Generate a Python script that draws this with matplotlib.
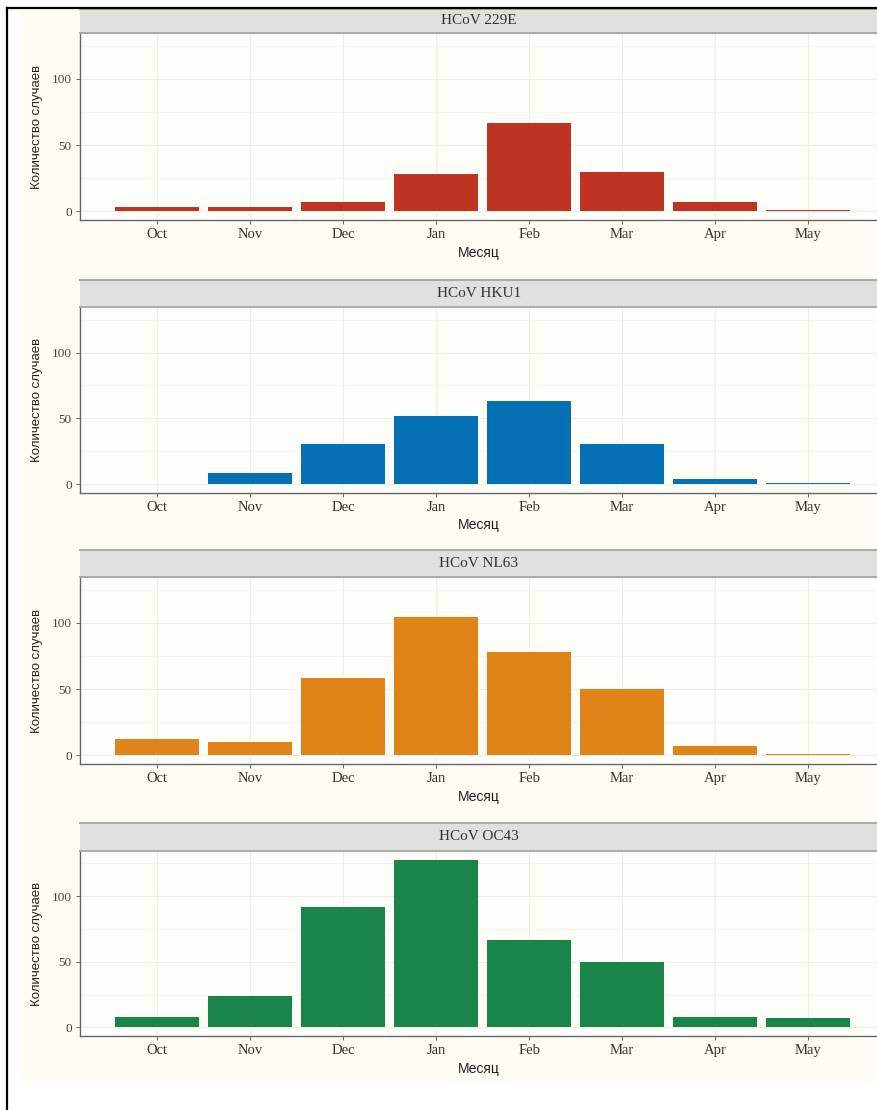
import matplotlib
matplotlib.use('Agg')
import matplotlib.pyplot as plt
from matplotlib.patches import Rectangle
from matplotlib.lines import Line2D
import numpy as np

# monthly case counts for each seasonal coronavirus
months = ['Oct', 'Nov', 'Dec', 'Jan', 'Feb', 'Mar', 'Apr', 'May']
viruses = ['HCoV 229E', 'HCoV HKU1', 'HCoV NL63', 'HCoV OC43']
cases_229e = [3, 3, 7, 28, 67, 30, 7, 1]
cases_hku1 = [0, 9, 31, 52, 63, 31, 4, 1]
cases_nl63 = [12, 10, 58, 104, 78, 50, 7, 1]
cases_oc43 = [8, 24, 92, 128, 67, 50, 8, 7]
colors = ['#BE3421', '#0570B3', '#E0841A', '#1A854B']

W, H = 878, 1110
fig = plt.figure(figsize=(W / 100, H / 100), dpi=100, facecolor='white')

# ivory plot background and the thin black frame
fig.add_artist(Rectangle((20 / W, 1 - 1082 / H), 1 - 20 / W, (1082 - 10) / H,
                         transform=fig.transFigure, facecolor='#fdfdf6',
                         edgecolor='none', zorder=-5))
fig.add_artist(Line2D([7 / W, 7 / W], [0, 1 - 8 / H], transform=fig.transFigure,
                      color='black', lw=1.6, zorder=5))
fig.add_artist(Line2D([7 / W, 1], [1 - 8 / H, 1 - 8 / H], transform=fig.transFigure,
                      color='black', lw=1.6, zorder=5))

serif = 'Liberation Serif'
sans = 'Liberation Sans'

all_cases = [cases_229e, cases_hku1, cases_nl63, cases_oc43]
# (strip top, panel top, panel bottom) in pixels
rows = [(9, 33, 220), (280, 307, 493), (550, 577, 764), (823, 851, 1036)]

x = np.arange(len(months))
left = 80
for name, vals, col, (st, pt, pb) in zip(viruses, all_cases, colors, rows):
    ax = fig.add_axes([left / W, 1 - pb / H, 1 - left / W, (pb - pt) / H])
    ax.set_facecolor('#fefef9')
    ax.bar(x, vals, width=0.9, color=col, zorder=3)
    ax.set_xlim(-0.83, 7.75)
    ax.set_ylim(-6.5, 134.5)
    ax.set_xticks(x)
    ax.set_xticklabels(months, fontfamily=serif, fontsize=10.5, color='#333333')
    ax.set_yticks([0, 50, 100])
    ax.set_yticklabels(['0', '50', '100'], fontfamily=serif, fontsize=9.5, color='#444444')
    ax.set_yticks([25, 75, 125], minor=True)
    ax.grid(True, which='major', color='#efefe8', lw=0.8, zorder=0)
    ax.grid(True, which='minor', axis='y', color='#f4f4ed', lw=0.6, zorder=0)
    ax.tick_params(axis='both', which='major', length=3, width=0.7, color='#666666', pad=3)
    ax.tick_params(axis='y', which='minor', length=0)
    for s in ['top', 'right']:
        ax.spines[s].set_visible(False)
    for s in ['left', 'bottom']:
        ax.spines[s].set_color('#666666')
        ax.spines[s].set_linewidth(1.0)
    ax.set_xlabel('Месяц', fontfamily=sans, fontsize=10, color='#222222', labelpad=3)
    ax.set_ylabel('Количество случаев', fontfamily=sans, fontsize=9.5, color='#222222', labelpad=6)

    # facet strip
    sax = fig.add_axes([left / W, 1 - pt / H, 1 - left / W, (pt - st) / H])
    sax.set_facecolor('#e0e0dc')
    sax.set_xticks([])
    sax.set_yticks([])
    for s in ['left', 'right']:
        sax.spines[s].set_visible(False)
    for s in ['top', 'bottom']:
        sax.spines[s].set_color('#a8a8a4')
        sax.spines[s].set_linewidth(1.4)
    sax.text(0.5, 0.5, name, transform=sax.transAxes, ha='center', va='center',
             fontfamily=serif, fontsize=11, color='#333333')

fig.savefig('out.png', dpi=100, facecolor=fig.get_facecolor())
